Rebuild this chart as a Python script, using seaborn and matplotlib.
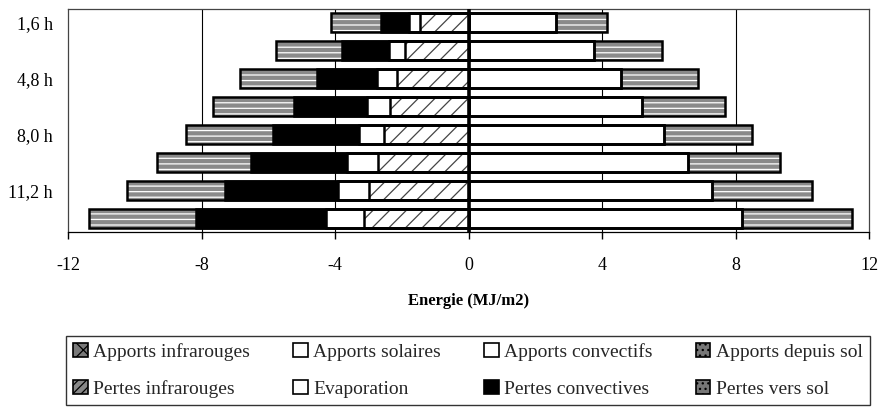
import matplotlib
matplotlib.use("Agg")
import matplotlib.pyplot as plt
from matplotlib.patches import Patch
import seaborn as sns
import numpy as np

# Data (MJ/m2)
hours = ["1,6 h", "3,2 h", "4,8 h", "6,4 h", "8,0 h", "9,6 h", "11,2 h", "12,8 h"]

apports_infrarouges = [0.0, 0.0, 0.0, 0.0, 0.0, 0.0, 0.0, 0.0]
apports_solaires = [2.63, 3.75, 4.57, 5.20, 5.87, 6.58, 7.30, 8.19]
apports_convectifs = [0.0, 0.0, 0.0, 0.0, 0.0, 0.0, 0.0, 0.0]
apports_sol = [1.52, 2.05, 2.31, 2.49, 2.62, 2.76, 2.99, 3.30]

pertes_infrarouges = [1.46, 1.89, 2.13, 2.36, 2.54, 2.71, 2.98, 3.13]
evaporation = [0.33, 0.50, 0.60, 0.69, 0.74, 0.92, 0.93, 1.15]
pertes_convectives = [0.84, 1.39, 1.80, 2.18, 2.57, 2.90, 3.40, 3.87]
pertes_sol = [1.50, 2.00, 2.32, 2.44, 2.62, 2.79, 2.91, 3.22]

x_ticks = [-12, -8, -4, 0, 4, 8, 12]

# Style
sns.set_theme(style="white")
plt.rcParams['font.family'] = ['Liberation Serif', 'DejaVu Serif']
plt.rcParams['hatch.linewidth'] = 0.9

GREY = '#8a8a8a'
# name -> (face, hatch, hatch colour)
styles = {
    "Apports infrarouges": ('#7a7a7a', 'xx', '#222222'),
    "Apports solaires": ('white', None, 'black'),
    "Apports convectifs": ('white', None, 'black'),
    "Apports depuis sol": (GREY, '---', 'white'),
    "Pertes infrarouges": ('white', '//', '#444444'),
    "Evaporation": ('white', None, 'black'),
    "Pertes convectives": ('black', None, 'black'),
    "Pertes vers sol": (GREY, '---', 'white'),
}

fig = plt.figure(figsize=(8.83, 4.09), dpi=100)
ax = fig.add_axes([68 / 883, 1 - 232 / 409, (869 - 68) / 883, (232 - 9) / 409])

def draw_stack(series, sign):
    # overlay cumulative bars, outermost first
    names = [s[0] for s in series]
    cum = np.cumsum([s[1] for s in series], axis=0)
    for k in range(len(series) - 1, -1, -1):
        face, hatch, hcol = styles[names[k]]
        sns.barplot(x=sign * cum[k], y=hours, orient='h', color=face,
                    saturation=1, width=0.68, errorbar=None, ax=ax,
                    edgecolor=hcol, linewidth=0, hatch=hatch, zorder=2)
        sns.barplot(x=sign * cum[k], y=hours, orient='h', fill=False,
                    width=0.68, errorbar=None, ax=ax,
                    edgecolor='black', linewidth=1.8, zorder=3)

draw_stack([("Apports infrarouges", apports_infrarouges),
            ("Apports solaires", apports_solaires),
            ("Apports convectifs", apports_convectifs),
            ("Apports depuis sol", apports_sol)], 1)
draw_stack([("Pertes infrarouges", pertes_infrarouges),
            ("Evaporation", evaporation),
            ("Pertes convectives", pertes_convectives),
            ("Pertes vers sol", pertes_sol)], -1)

# grid & zero line
for v in x_ticks[1:-1]:
    if v != 0:
        ax.axvline(v, color='black', lw=0.8, zorder=1)
ax.axvline(0, color='black', lw=2.6, zorder=5)

ax.set_xlim(-12, 12)
ax.set_ylim(7.5, -0.5)
ax.set_xticks(x_ticks)
ax.set_xticklabels([str(v) for v in x_ticks])
ax.set_yticks(range(0, len(hours), 2))
ax.set_yticklabels(hours[0::2])
ax.tick_params(axis='x', bottom=True, length=5, width=1, color='black',
               pad=13, labelsize=13, labelcolor='black')
ax.tick_params(axis='y', left=False, length=0, pad=11, labelsize=13,
               labelcolor='black')
for sp in ax.spines.values():
    sp.set_color('#444444')
    sp.set_linewidth(0.9)
ax.spines['bottom'].set_color('black')
ax.set_ylabel('')
ax.set_xlabel('Energie (MJ/m2)', fontsize=12, fontweight='bold',
              color='black', labelpad=14)

# legend (Excel row order: apports on top row, pertes below)
order = ["Apports infrarouges", "Pertes infrarouges",
         "Apports solaires", "Evaporation",
         "Apports convectifs", "Pertes convectives",
         "Apports depuis sol", "Pertes vers sol"]
handles = []
for name in order:
    face, hatch, hcol = styles[name]
    if face == GREY:
        face = '#777777'
        hatch = '...'
    if name == "Pertes infrarouges":
        face = '#888888'
        hatch = '////'
    handles.append(Patch(facecolor=face, hatch=hatch, edgecolor='black',
                         linewidth=1.2))
fig.legend(handles, order, ncol=4, loc='upper center',
           bbox_to_anchor=(468 / 883, 1 - 336 / 409), borderaxespad=0,
           fontsize=14, frameon=True, fancybox=False, edgecolor='black',
           handlelength=0.75, handleheight=0.75, handletextpad=0.3,
           columnspacing=2.2, labelspacing=1.0, borderpad=0.35)

fig.savefig('out.png', dpi=100)
